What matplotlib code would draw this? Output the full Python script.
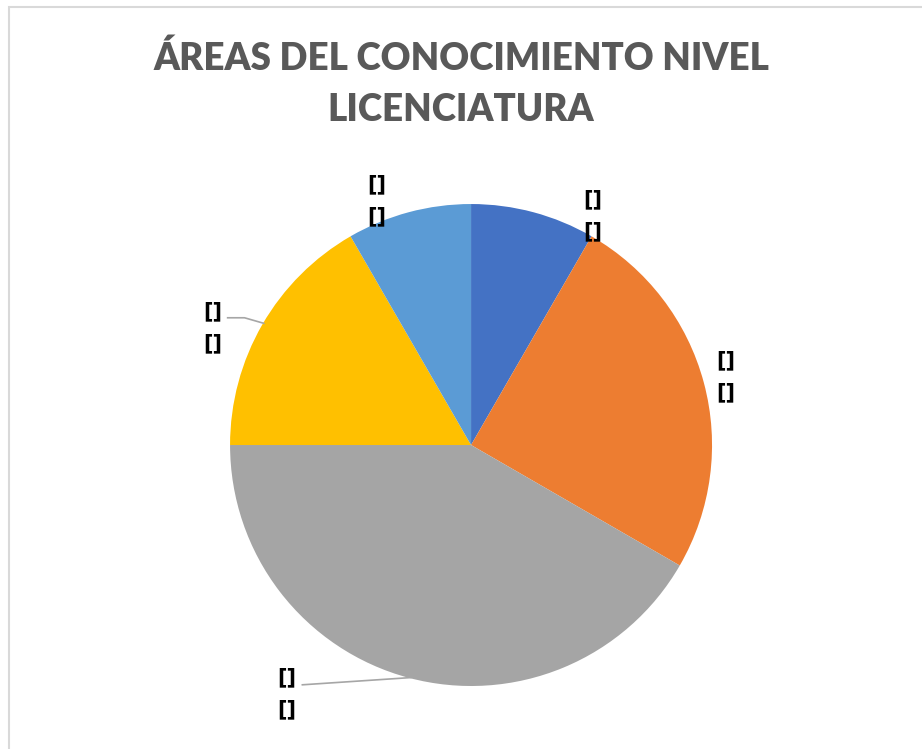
import numpy as np
import matplotlib.pyplot as plt
from matplotlib.patches import Rectangle

# ---------------- datos ----------------
areas = ["Área 1", "Área 2", "Área 3", "Área 4", "Área 5"]
valores = [1, 3, 5, 2, 1]
colores = ["#4472C4", "#ED7D31", "#A5A5A5", "#FFC000", "#5B9BD5"]
etiquetas = ["[]\n[]"] * len(valores)

# posiciones de las etiquetas (coordenadas del eje del pastel, radio 1)
pos_etiquetas = [(0.506, 0.955), (1.058, 0.285), (-0.763, -1.03),
                 (-1.071, 0.49), (-0.39, 1.015)]
# líneas guía (solo para las etiquetas que la tienen)
guias = {2: [(-0.70, -0.995), (-0.25, -0.965)],
         3: [(-1.01, 0.528), (-0.94, 0.528), (-0.86, 0.505)]}

titulo = "ÁREAS DEL CONOCIMIENTO NIVEL\nLICENCIATURA"

plt.rcParams["font.family"] = ["Lato", "DejaVu Sans"]

fig = plt.figure(figsize=(9.22, 7.49), dpi=100)

# marco gris
fig.patches.append(Rectangle((9 / 922, -0.01), 1.02, 1.0007,
                             transform=fig.transFigure, fill=False,
                             edgecolor="#D9D9D9", linewidth=1.5))

fig.text(0.5, 0.888, titulo, ha="center", va="center", fontsize=26.5,
         fontweight="heavy", color="#595959", linespacing=1.62)

ax = fig.add_axes([0.2495, 0.0841, 0.5228, 0.6435])
ax.pie(valores, colors=colores, startangle=90, counterclock=False,
       radius=1, wedgeprops=dict(linewidth=0))
ax.set_xlim(-1, 1)
ax.set_ylim(-1, 1)
ax.axis("off")

for i, (txt, (x, y)) in enumerate(zip(etiquetas, pos_etiquetas)):
    ax.text(x, y, txt, ha="center", va="center", fontsize=15,
            fontweight="bold", color="black", linespacing=1.75,
            family="DejaVu Sans", clip_on=False)
for i, pts in guias.items():
    xs, ys = zip(*pts)
    ax.plot(xs, ys, color="#A6A6A6", linewidth=1.2, clip_on=False)

fig.savefig("out.png", dpi=100)
